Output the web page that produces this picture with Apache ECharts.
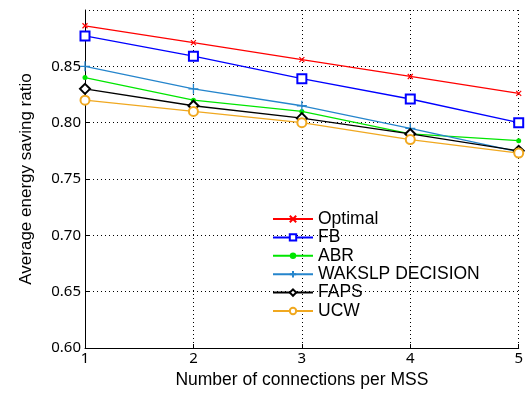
<!DOCTYPE html>
<html>
<head>
<meta charset="utf-8">
<script src="https://cdn.jsdelivr.net/npm/echarts@6/dist/echarts.min.js"></script>
<style>
  html, body { margin: 0; padding: 0; background: #fff; }
  #chart { width: 526px; height: 394px; }
</style>
</head>
<body>
<div id="chart"></div>
<script>
// connections per MSS
var connections = ['1', '2', '3', '4', '5'];

// average energy saving ratio per scheme
var optimal = [0.886, 0.871, 0.856, 0.841, 0.826];
var fb      = [0.877, 0.859, 0.839, 0.821, 0.800];
var abr     = [0.840, 0.820, 0.810, 0.790, 0.784];
var wakslp  = [0.850, 0.830, 0.815, 0.795, 0.774];
var faps    = [0.830, 0.815, 0.804, 0.790, 0.775];
var ucw     = [0.820, 0.810, 0.800, 0.785, 0.773];

var seriesNames = ['Optimal', 'FB', 'ABR', 'WAKSLP DECISION', 'FAPS', 'UCW'];

var crossPath = 'path://M0,0L10,10M10,0L0,10';
var plusPath = 'path://M5,0L5,10M0,5L10,5';

function makeLine(name, data, color, symbol, size, border) {
    return {
        name: name,
        type: 'line',
        data: data,
        symbol: symbol,
        symbolSize: size,
        showAllSymbol: true,
        lineStyle: { color: color, width: 1.3 },
        itemStyle: {
            color: color,
            borderColor: color,
            borderWidth: border
        },
        emphasis: { disabled: true },
        animation: false
    };
}

var myChart = echarts.init(document.getElementById('chart'));

var option = {
    animation: false,
    grid: { left: 85, right: 4, top: 10, bottom: 46 },
    legend: {
        orient: 'vertical',
        left: 267,
        top: 205,
        itemWidth: 40,
        itemHeight: 8,
        itemGap: 0.4,
        textStyle: { fontFamily: 'Liberation Sans', fontSize: 17.5, lineHeight: 16, color: '#000' },
        data: seriesNames
    },
    xAxis: {
        type: 'category',
        boundaryGap: false,
        data: connections,
        name: 'Number of connections per MSS',
        nameLocation: 'middle',
        nameGap: 21,
        nameTextStyle: { fontFamily: 'Liberation Sans', fontSize: 17.5, color: '#000' },
        axisLine: { lineStyle: { color: '#000', width: 1 } },
        axisTick: { inside: true, length: 4, lineStyle: { color: '#000' } },
        axisLabel: { fontFamily: 'Noto Sans', fontSize: 15, color: '#000', margin: 3 },
        splitLine: { show: true, lineStyle: { color: '#000', type: [1, 3], width: 1 } }
    },
    yAxis: {
        type: 'value',
        min: 0.6,
        max: 0.9,
        interval: 0.05,
        name: 'Average energy saving ratio',
        nameLocation: 'middle',
        nameGap: 50,
        nameTextStyle: { fontFamily: 'Liberation Sans Narrow, Liberation Sans', fontSize: 17, color: '#000' },
        axisLine: { show: true, lineStyle: { color: '#000', width: 1 } },
        axisTick: { show: true, inside: true, length: 4, lineStyle: { color: '#000' } },
        axisLabel: {
            fontFamily: 'Noto Sans', fontSize: 15, color: '#000', margin: 4,
            showMaxLabel: false,
            formatter: function (v) { return v.toFixed(2); }
        },
        splitLine: { show: true, lineStyle: { color: '#000', type: [1, 3], width: 1 } }
    },
    series: [
        makeLine('Optimal', optimal, '#ff0000', crossPath, 5, 1.2),
        makeLine('FB', fb, '#0000ff', 'emptyRect', 9, 1.2),
        makeLine('ABR', abr, '#00e600', 'circle', 5, 0),
        makeLine('WAKSLP DECISION', wakslp, '#2585cc', plusPath, 10, 1.3),
        makeLine('FAPS', faps, '#000000', 'emptyDiamond', 10, 1.2),
        makeLine('UCW', ucw, '#f0a820', 'emptyCircle', 9, 1.2)
    ]
};

myChart.setOption(option);
</script>
</body>
</html>
